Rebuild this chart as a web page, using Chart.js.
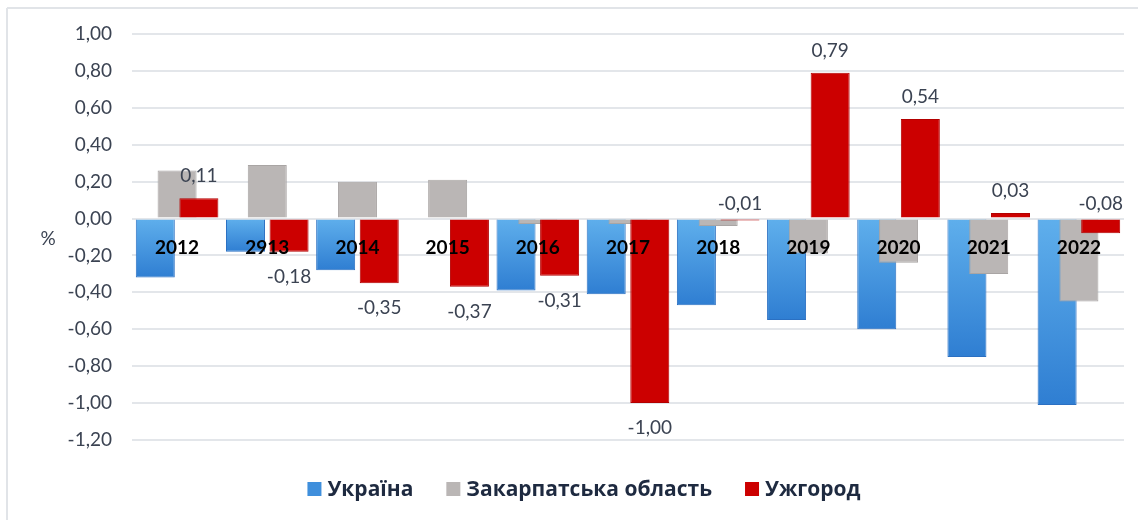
<!DOCTYPE html>
<html>
<head>
<meta charset="utf-8">
<script src="https://cdn.jsdelivr.net/npm/chart.js@4.4.1/dist/chart.umd.min.js"></script>
<style>
html,body{margin:0;padding:0;background:#ffffff;}
#wrap{width:1138px;height:520px;position:relative;overflow:hidden;}
canvas{display:block;}
</style>
</head>
<body>
<div id="wrap"><canvas id="c" width="1138" height="520"></canvas></div>
<script>
// ---- data ----
const categories = ['2012','2913','2014','2015','2016','2017','2018','2019','2020','2021','2022'];
const ukraine     = [-0.32,-0.18,-0.28,null,-0.39,-0.41,-0.47,-0.55,-0.60,-0.75,-1.01];
const zakarpattia = [0.26,0.29,0.20,0.21,-0.03,-0.03,-0.04,-0.19,-0.24,-0.30,-0.45];
const uzhhorod    = [0.11,-0.18,-0.35,-0.37,-0.31,-1.00,-0.01,0.79,0.54,0.03,-0.08];
const seriesNames = ['Україна','Закарпатська область','Ужгород'];
const yAxisTitle  = '%';
const yMin = -1.2, yMax = 1.0, yStep = 0.2;

// ---- style ----
const FONT = "Lato, 'Liberation Sans', sans-serif";
const LEGEND_FONT = "'Open Sans', Lato, sans-serif";
const textColor = '#3b4352';
const legendColor = '#1e2a40';
const gridColor = '#e3e6ea';

function fmt(v){ if (Math.abs(v) < 1e-9) v = 0; return v.toFixed(2).replace('.', ','); }

function blueFill(c){
  const chart = c.chart;
  const ys = chart.scales && chart.scales.y;
  if (c.type !== 'data' || !ys || c.raw == null) return '#4a9be2';
  const y0 = ys.getPixelForValue(0), y1 = ys.getPixelForValue(c.raw);
  if (!isFinite(y0) || !isFinite(y1) || Math.abs(y1 - y0) < 1) return '#4a9be2';
  const g = chart.ctx.createLinearGradient(0, Math.min(y0,y1), 0, Math.max(y0,y1));
  g.addColorStop(0, '#5fafec');
  g.addColorStop(1, '#2f7ed2');
  return g;
}

const orderPlugin = {
  id: 'orderAndLabels',
  beforeDraw(chart){
    const ctx = chart.ctx;
    ctx.save();
    ctx.strokeStyle = '#e1e4e8';
    ctx.lineWidth = 2;
    ctx.beginPath();
    ctx.moveTo(7, 8); ctx.lineTo(chart.width, 8);
    ctx.moveTo(7, 8); ctx.lineTo(7, chart.height);
    ctx.stroke();
    ctx.restore();
  },
  beforeDatasetsDraw(chart){
    // draw series left-to-right so the right-hand bars overlap the left ones
    for (let i = 0; i < chart.data.datasets.length; i++) {
      const meta = chart.getDatasetMeta(i);
      if (!meta.hidden) meta.controller.draw();
    }
    // value labels for Ужгород
    const ctx = chart.ctx;
    const ys = chart.scales.y;
    const y0 = ys.getPixelForValue(0);
    const meta = chart.getDatasetMeta(2);
    ctx.save();
    ctx.font = '19px ' + FONT;
    ctx.fillStyle = textColor;
    ctx.textAlign = 'center';
    ctx.textBaseline = 'middle';
    meta.data.forEach((bar, i) => {
      const v = uzhhorod[i];
      if (v == null) return;
      let y, x = bar.x;
      if (v >= 0) y = bar.y - 22;
      else if (v > -0.1) { y = y0 - 15; }
      else y = bar.y + 25;
      ctx.fillText(fmt(v), x, y);
    });
    ctx.restore();
    return false;
  },
  afterDraw(chart){
    const ctx = chart.ctx;
    const area = chart.chartArea;
    ctx.save();
    // y-axis title
    ctx.font = '19px ' + FONT;
    ctx.fillStyle = textColor;
    ctx.textAlign = 'center';
    ctx.textBaseline = 'middle';
    ctx.fillText(yAxisTitle, 48, (area.top + area.bottom) / 2 + 2);
    // legend
    ctx.font = 'bold 21px ' + LEGEND_FONT;
    const box = 14, gapText = 6, gapItem = 33;
    const ds = chart.data.datasets;
    let total = 0;
    const widths = ds.map(d => ctx.measureText(d.label).width);
    widths.forEach((w, i) => { total += box + gapText + w + (i < widths.length - 1 ? gapItem : 0); });
    let x = 584 - total / 2;
    const cy = 489;
    ds.forEach((d, i) => {
      ctx.fillStyle = d.legendColor;
      ctx.fillRect(x, cy - box / 2, box, box);
      ctx.fillStyle = legendColor;
      ctx.textAlign = 'left';
      ctx.fillText(d.label, x + box + gapText, cy + 1);
      x += box + gapText + widths[i] + gapItem;
    });
    ctx.restore();
  }
};

new Chart(document.getElementById('c'), {
  type: 'bar',
  data: {
    labels: categories,
    datasets: [
      { label: seriesNames[0], data: ukraine, backgroundColor: blueFill, borderColor: '#2b70c2', borderWidth: 1, legendColor: '#3f8fdc' },
      { label: seriesNames[1], data: zakarpattia, backgroundColor: '#bab6b5', borderColor: '#a9a5a4', borderWidth: 1, legendColor: '#bab6b5' },
      { label: seriesNames[2], data: uzhhorod, backgroundColor: '#cc0000', borderColor: '#b30000', borderWidth: 1, legendColor: '#cc0000' }
    ]
  },
  options: {
    responsive: false,
    animation: false,
    devicePixelRatio: 1,
    layout: { padding: { top: 34, bottom: 80, left: 0, right: 14 } },
    datasets: { bar: { categoryPercentage: 0.725, barPercentage: 1.79 } },
    plugins: { legend: { display: false }, tooltip: { enabled: false } },
    scales: {
      x: {
        position: { y: 0 },
        grid: { display: false },
        border: { display: false },
        ticks: { z: 1, color: '#000000', font: { family: FONT, size: 19, weight: 'bold' }, padding: 10, maxRotation: 0, autoSkip: false }
      },
      y: {
        min: yMin, max: yMax,
        grid: { color: gridColor, lineWidth: 2, drawTicks: false },
        border: { display: false },
        afterFit(scale){ scale.width = 132; },
        ticks: {
          stepSize: yStep,
          padding: 20,
          color: textColor,
          font: { family: FONT, size: 19 },
          callback: (v) => fmt(v)
        }
      }
    }
  },
  plugins: [orderPlugin]
});
</script>
</body>
</html>
